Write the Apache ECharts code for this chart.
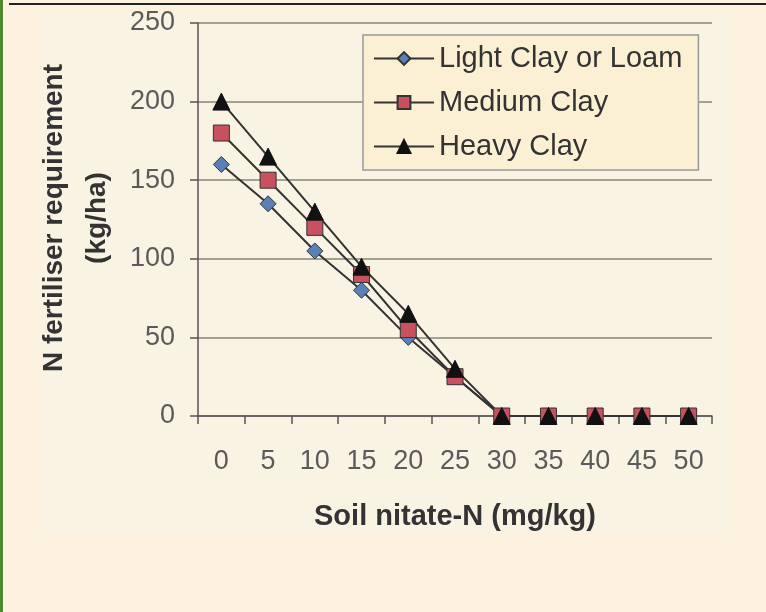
<!DOCTYPE html>
<html>
<head>
<meta charset="utf-8">
<script src="https://cdn.jsdelivr.net/npm/echarts@6/dist/echarts.min.js"></script>
<style>
html,body{margin:0;padding:0;background:#fdf1df;}
#c{width:766px;height:612px;}
</style>
</head>
<body>
<div id="c"></div>
<script>
const categories = ['0','5','10','15','20','25','30','35','40','45','50'];
const lightClay = [160,135,105,80,50,25,0,0,0,0,0];
const mediumClay = [180,150,120,90,55,25,0,0,0,0,0];
const heavyClay = [200,165,130,95,65,30,0,0,0,0,0];
const seriesNames = ['Light Clay or Loam','Medium Clay','Heavy Clay'];
const yTicks = {min:0,max:250,interval:50};

const FONT = '"Liberation Sans", Arial, sans-serif';
const chart = echarts.init(document.getElementById('c'), null, {renderer:'canvas'});
const lineStyle = {color:'#333', width:2};
chart.setOption({
  backgroundColor:'#fdf1df',
  animation:false,
  graphic:[
    {type:'rect', z:-10, shape:{x:0,y:0,width:3,height:612}, style:{fill:'#4f8a30'}},
    {type:'rect', z:-10, shape:{x:9,y:3,width:757,height:2}, style:{fill:'#222'}},
    {type:'rect', z:-10, shape:{x:41,y:13,width:686,height:520}, style:{fill:'#f9f3e3'}},
    {type:'text', z:10, x:76, y:218, rotation:Math.PI/2,
      style:{text:'N fertiliser requirement\n(kg/ha)', font:'bold 28px '+FONT, fill:'#333',
        align:'center', verticalAlign:'middle', lineHeight:43}}
  ],
  grid:{left:198, right:54, top:23, bottom:196, containLabel:false},
  legend:{
    orient:'vertical', left:363, top:35,
    padding:[9,16,9,10],
    backgroundColor:'#fcf0d4', borderColor:'#999', borderWidth:1.5,
    itemWidth:60, itemHeight:16, itemGap:15,
    textStyle:{fontSize:29, color:'#333', fontFamily:FONT},
    data:seriesNames
  },
  xAxis:{
    type:'category', data:categories, boundaryGap:true,
    name:'Soil nitate-N (mg/kg)', nameLocation:'middle', nameGap:86,
    nameTextStyle:{fontSize:29, fontWeight:'bold', color:'#333', fontFamily:FONT},
    axisLine:{lineStyle:{color:'#555', width:1.5}},
    axisTick:{show:true, alignWithLabel:false, length:8, lineStyle:{color:'#555', width:1.5}},
    axisLabel:{fontSize:27, color:'#5a5a5a', margin:32, fontFamily:FONT},
    splitLine:{show:false}
  },
  yAxis:{
    type:'value', min:yTicks.min, max:yTicks.max, interval:yTicks.interval,
    axisLine:{show:true, lineStyle:{color:'#555', width:1.5}},
    axisTick:{show:true, length:8, lineStyle:{color:'#555', width:1.5}},
    axisLabel:{fontSize:27, color:'#5a5a5a', margin:23, fontFamily:FONT},
    splitLine:{show:true, lineStyle:{color:'#8a8476', width:1.5}}
  },
  series:[
    {name:seriesNames[0], type:'line', data:lightClay, symbol:'diamond', symbolSize:16,
      lineStyle:lineStyle, itemStyle:{color:'#5b80b8', borderColor:'#333', borderWidth:1}},
    {name:seriesNames[1], type:'line', data:mediumClay, symbol:'rect', symbolSize:16,
      lineStyle:lineStyle, itemStyle:{color:'#c8505f', borderColor:'#333', borderWidth:1}},
    {name:seriesNames[2], type:'line', data:heavyClay, symbol:'triangle', symbolSize:17,
      lineStyle:lineStyle, itemStyle:{color:'#111', borderColor:'#111', borderWidth:1}}
  ]
});
</script>
</body>
</html>
